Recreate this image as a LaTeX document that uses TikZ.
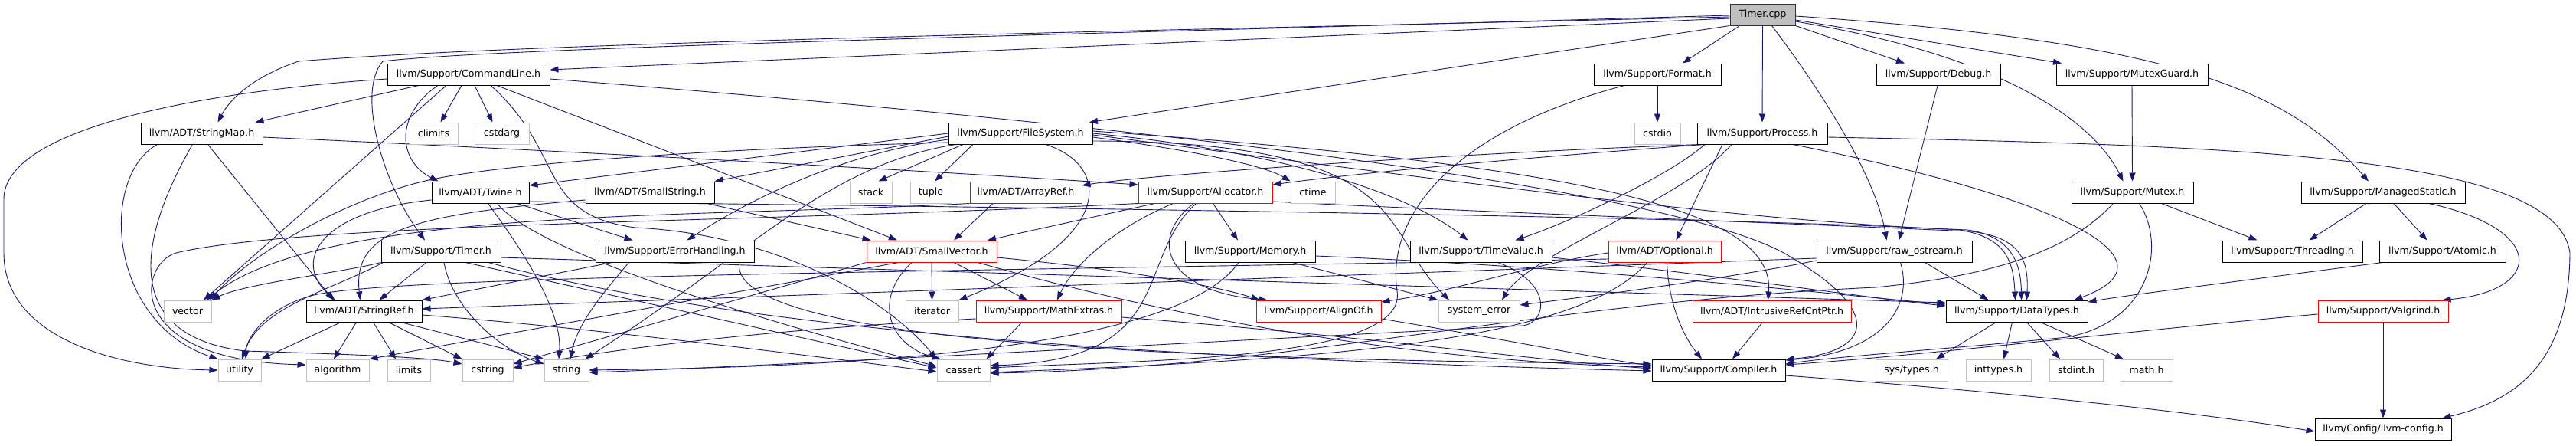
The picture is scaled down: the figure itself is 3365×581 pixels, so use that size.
\documentclass[tikz,border=0pt]{standalone}
\usepackage{fontspec}
\newfontfamily\nf{DejaVu Sans}
\usetikzlibrary{arrows.meta}
\pgfdeclarelayer{bg}
\pgfsetlayers{bg,main}
\definecolor{edgec}{HTML}{191970}
\definecolor{greyb}{HTML}{BFBFBF}
\tikzset{
  nb/.style={draw=black, line width=1.0pt, fill=white, minimum height=28pt, inner sep=0pt, font=\nf\fontsize{12.6pt}{15pt}\selectfont},
  nr/.style={nb, draw=red},
  ng/.style={nb, draw=greyb},
  e/.style={draw=edgec, line width=0.9pt, -{Triangle[length=11pt,width=8pt]}}
}
\begin{document}
\begin{tikzpicture}[x=1pt,y=-1pt]
\useasboundingbox (0,0) rectangle (3365,581);
% nodes
\node[nb,fill=greyb,draw=black!80,minimum width=85pt] (timercpp) at (2302.5,19) {Timer.cpp};
\node[nb,minimum width=212pt] (cmdline) at (612,97) {llvm/Support/CommandLine.h};
\node[nb,minimum width=166pt] (format) at (2165,97) {llvm/Support/Format.h};
\node[nb,minimum width=162pt] (debug) at (2532,97) {llvm/Support/Debug.h};
\node[nb,minimum width=198pt] (mutexguard) at (2785,97) {llvm/Support/MutexGuard.h};
\node[nb,minimum width=159pt] (stringmap) at (263.5,174) {llvm/ADT/StringMap.h};
\node[ng,minimum width=63pt] (climits) at (566.5,174) {climits};
\node[ng,minimum width=71pt] (cstdarg) at (655.5,174) {cstdarg};
\node[nb,minimum width=188pt] (filesystem) at (1333,174) {llvm/Support/FileSystem.h};
\node[ng,minimum width=60pt] (cstdio) at (2165,174) {cstdio};
\node[nb,minimum width=170pt] (process) at (2302,174) {llvm/Support/Process.h};
\node[nb,minimum width=127pt] (twine) at (627.5,251) {llvm/ADT/Twine.h};
\node[nb,minimum width=168pt] (smallstring) at (849,251) {llvm/ADT/SmallString.h};
\node[ng,minimum width=55pt] (stack) at (1137.5,251) {stack};
\node[ng,minimum width=54pt] (tuple) at (1216,251) {tuple};
\node[nr,minimum width=146pt] (arrayref) at (1340,251) {llvm/ADT/ArrayRef.h};
\node[nr,minimum width=175pt] (allocator) at (1574.5,251) {llvm/Support/Allocator.h};
\node[ng,minimum width=58pt] (ctime) at (1715,251) {ctime};
\node[nb,minimum width=159pt] (mutex) at (2785.5,251) {llvm/Support/Mutex.h};
\node[nb,minimum width=214pt] (managedstatic) at (3113,251) {llvm/Support/ManagedStatic.h};
\node[nb,minimum width=156pt] (timerh) at (576,328) {llvm/Support/Timer.h};
\node[nb,minimum width=207pt] (errorhandling) at (881.5,328) {llvm/Support/ErrorHandling.h};
\node[nr,minimum width=170pt] (smallvector) at (1217,328) {llvm/ADT/SmallVector.h};
\node[nb,minimum width=170pt] (memory) at (1633,328) {llvm/Support/Memory.h};
\node[nb,minimum width=185pt] (timevalue) at (1934.5,328) {llvm/Support/TimeValue.h};
\node[nr,minimum width=147pt] (optional) at (2174.5,328) {llvm/ADT/Optional.h};
\node[nb,minimum width=203pt] (rawostream) at (2474.5,328) {llvm/Support/raw\_ostream.h};
\node[nb,minimum width=183pt] (threading) at (2994.5,328) {llvm/Support/Threading.h};
\node[nb,minimum width=165pt] (atomic) at (3190.5,328) {llvm/Support/Atomic.h};
\node[ng,minimum width=62pt] (vector) at (245,406) {vector};
\node[nb,minimum width=151pt] (stringref) at (475.5,406) {llvm/ADT/StringRef.h};
\node[ng,minimum width=69pt] (iterator) at (1217.5,406) {iterator};
\node[nr,minimum width=190pt] (mathextras) at (1370,406) {llvm/Support/MathExtras.h};
\node[nr,minimum width=163pt] (alignof) at (1722.5,406) {llvm/Support/AlignOf.h};
\node[ng,minimum width=106pt] (systemerror) at (1932,406) {system\_error};
\node[nr,minimum width=207pt] (intrusive) at (2314.5,406) {llvm/ADT/IntrusiveRefCntPtr.h};
\node[nb,minimum width=185pt] (datatypes) at (2634.5,406) {llvm/Support/DataTypes.h};
\node[nr,minimum width=170pt] (valgrind) at (3113,406) {llvm/Support/Valgrind.h};
\node[ng,minimum width=56pt] (utility) at (313,483) {utility};
\node[ng,minimum width=82pt] (algorithm) at (441,483) {algorithm};
\node[ng,minimum width=56pt] (limits) at (534,483) {limits};
\node[ng,minimum width=66pt] (cstring) at (637,483) {cstring};
\node[ng,minimum width=58pt] (string) at (740,483) {string};
\node[ng,minimum width=69pt] (cassert) at (1258.5,483) {cassert};
\node[nb,minimum width=174pt] (compiler) at (2245,483) {llvm/Support/Compiler.h};
\node[ng,minimum width=94pt] (systypes) at (2497,483) {sys/types.h};
\node[ng,minimum width=85pt] (inttypes) at (2610.5,483) {inttypes.h};
\node[ng,minimum width=70pt] (stdint) at (2712,483) {stdint.h};
\node[ng,minimum width=68pt] (mathh) at (2804,483) {math.h};
\node[nb,minimum width=178pt] (llvmconfig) at (3113,560) {llvm/Config/llvm-config.h};

\begin{pgfonlayer}{bg}
\fill[white] (0,0) rectangle (3365,581);
% Timer.cpp
\draw[e] ([yshift=-3pt]timercpp.west) .. controls (1500,40) and (700,55) .. (390,80) .. controls (330,100) and (300,130) .. ([xshift=21pt]stringmap.north);
\draw[e] ([yshift=-1pt]timercpp.west) .. controls (1400,45) and (650,62) .. (500,80) .. controls (465,120) and (500,240) .. ([xshift=-21pt]timerh.north);
\draw[e] ([yshift=-5pt]timercpp.west) -- ([yshift=6pt]cmdline.east);
\draw[e] (timercpp.south west) -- ([xshift=90pt]filesystem.north);
\draw[e] ([xshift=-30pt]timercpp.south) -- ([xshift=33pt]format.north);
\draw[e] (timercpp.south) -- (process.north);
\draw[e] ([xshift=12pt]timercpp.south) .. controls (2380,120) and (2450,230) .. ([xshift=-10pt]rawostream.north);
\draw[e] (timercpp.south east) -- ([xshift=-44pt]debug.north);
\draw[e] ([yshift=-7pt]timercpp.east) -- ([xshift=-92pt]mutexguard.north);
\draw[e] ([yshift=-9pt]timercpp.east) .. controls (2600,70) and (2730,150) .. ([xshift=-12pt]mutex.north);
\draw[e] ([yshift=-2pt]timercpp.east) .. controls (2850,55) and (2990,120) .. ([xshift=-19pt]managedstatic.north);
% CommandLine
\draw[e] ([xshift=-65pt]cmdline.south) -- ([xshift=70pt]stringmap.north);
\draw[e] ([yshift=-6pt]cmdline.west) .. controls (250,120) and (5,170) .. (5,260) -- (5,330) .. controls (5,440) and (150,481) .. (utility.west);
\draw[e] ([xshift=-29pt]cmdline.south) -- ([xshift=21pt]vector.north);
\draw[e] ([xshift=-40pt]cmdline.south) .. controls (515,150) and (520,210) .. ([xshift=-55pt]twine.north);
\draw[e] ([xshift=-9pt]cmdline.south) -- ([xshift=9pt]climits.north);
\draw[e] ([xshift=8pt]cmdline.south) -- ([xshift=-12pt]cstdarg.north);
\draw[e] ([xshift=29pt]cmdline.south) .. controls (740,200) and (700,280) .. (830,297) .. controls (1000,305) and (1150,380) .. (cassert.north west);
\draw[e] ([xshift=37pt]cmdline.south) -- ([xshift=-45pt]smallvector.north);
\draw[e] ([yshift=-6pt]cmdline.east) .. controls (1700,180) and (2200,260) .. (2330,330) .. controls (2470,410) and (2440,460) .. ([yshift=14pt]compiler.east);
% StringMap
\draw[e] ([xshift=-58pt]stringmap.south) .. controls (130,230) and (140,420) .. (utility.north west);
\draw[e] ([xshift=-12pt]stringmap.south) .. controls (170,330) and (170,440) .. (320,458) .. controls (450,462) and (560,466) .. ([yshift=8pt]cstring.west);
\draw[e] ([xshift=8pt]stringmap.south) -- ([xshift=-40pt]stringref.north);
\draw[e] ([yshift=-5pt]stringmap.east) .. controls (700,195) and (1200,222) .. ([yshift=10pt]allocator.west);
% Twine
\draw[e] ([yshift=-10pt]twine.west) .. controls (420,275) and (380,340) .. ([xshift=-38pt]stringref.north);
\draw[e] ([xshift=48pt]twine.south) -- ([xshift=-55pt]errorhandling.north);
\draw[e] ([xshift=10pt]twine.south) .. controls (670,310) and (735,400) .. ([xshift=-10pt]string.north);
\draw[e] ([xshift=22pt]twine.south) .. controls (700,330) and (1000,420) .. ([yshift=5pt]cassert.west);
\draw[e] ([yshift=-12pt]twine.east) .. controls (1500,272) and (2300,285) .. (2560,300) .. controls (2620,310) and (2630,340) .. ([xshift=-2pt]datatypes.north);
% SmallString
\draw[e] ([xshift=-10pt]smallstring.south east) -- ([xshift=6pt]smallvector.north west);
\draw[e] ([yshift=-10pt]smallstring.west) .. controls (540,280) and (460,300) .. ([xshift=-5pt]stringref.north);
% FileSystem
\draw[e] (filesystem.west) -- ([yshift=9pt]twine.east);
\draw[e] ([yshift=-4pt]filesystem.west) -- (smallstring.north east);
\draw[e] ([yshift=-8pt]filesystem.west) .. controls (1100,200) and (980,260) .. ([xshift=16pt]errorhandling.north);
\draw[e] ([yshift=-12pt]filesystem.west) .. controls (900,195) and (650,215) .. (560,235) .. controls (450,260) and (330,330) .. ([xshift=29pt]vector.north);
\draw[e] ([xshift=10pt]filesystem.south west) .. controls (1080,215) and (980,330) .. ([xshift=-5pt]string.north east);
\draw[e] ([xshift=-75pt]filesystem.south) -- ([xshift=10pt]stack.north);
\draw[e] ([xshift=-62pt]filesystem.south) -- ([xshift=5pt]tuple.north);
\draw[e] ([xshift=33pt]filesystem.south) .. controls (1450,215) and (1460,310) .. (iterator.north east);
\draw[e] ([yshift=-5pt]filesystem.east) .. controls (1550,195) and (1650,215) .. (ctime.north west);
\draw[e] (filesystem.east) .. controls (1700,200) and (1850,260) .. ([xshift=-17pt]timevalue.north);
\draw[e] ([yshift=-10pt]filesystem.east) .. controls (1850,185) and (1800,300) .. ([xshift=-39pt]systemerror.north);
\draw[e] ([yshift=3pt]filesystem.east) .. controls (2050,215) and (2320,270) .. ([xshift=-5pt]intrusive.north);
\draw[e] ([yshift=-2pt]filesystem.east) .. controls (2000,250) and (2300,290) .. (2570,300) .. controls (2625,308) and (2640,340) .. ([xshift=6pt]datatypes.north);
% ErrorHandling
\draw[e] ([xshift=22pt]errorhandling.south west) -- (stringref.north east);
\draw[e] ([xshift=-60pt]errorhandling.south) .. controls (790,380) and (755,420) .. ([xshift=5pt]string.north);
\draw[e] ([xshift=-20pt]errorhandling.south east) .. controls (950,460) and (1700,470) .. ([yshift=8pt]compiler.west);
% SmallVector
\draw[e] ([xshift=-43pt]smallvector.south) -- (algorithm.north east);
\draw[e] (smallvector.south west) -- ([yshift=8pt]cstring.east);
\draw[e] ([xshift=-26pt]smallvector.south) .. controls (1140,390) and (1160,450) .. ([xshift=-30pt]cassert.north);
\draw[e] (smallvector.south) -- (iterator.north);
\draw[e] ([xshift=29pt]smallvector.south) -- ([xshift=-28pt]mathextras.north);
\draw[e] ([xshift=60pt]smallvector.south) .. controls (1480,400) and (1800,470) .. ([yshift=4pt]compiler.west);
\draw[e] ([yshift=-8pt]smallvector.east) .. controls (1450,350) and (1580,370) .. ([xshift=5pt]alignof.north west);
% ArrayRef
\draw[e] ([xshift=-43pt]arrayref.south) -- ([xshift=29pt]smallvector.north);
\draw[e] (arrayref.south west) .. controls (900,285) and (420,270) .. ([xshift=25pt]vector.north);
% Allocator
\draw[e] ([xshift=-66pt]allocator.south) -- ([xshift=73pt]smallvector.north);
\draw[e] ([xshift=-15pt]allocator.south) .. controls (1500,310) and (1520,380) .. ([xshift=15pt]alignof.north west);
\draw[e] ([xshift=-42pt]allocator.south) .. controls (1450,300) and (1400,350) .. ([xshift=11pt]mathextras.north);
\draw[e] ([xshift=-12pt]allocator.south) .. controls (1480,340) and (1540,470) .. ([yshift=6pt]cassert.east);
\draw[e] ([xshift=10pt]allocator.south) -- ([xshift=-16pt]memory.north);
\draw[e] ([yshift=-12pt]allocator.east) .. controls (1900,275) and (2300,290) .. (2575,302) .. controls (2640,310) and (2650,340) .. ([xshift=13pt]datatypes.north);
\draw[e] (allocator.south west) .. controls (1000,290) and (400,290) .. (230,330) .. controls (180,345) and (160,470) .. ([yshift=7pt]algorithm.west);
% Memory
\draw[e] ([yshift=-6pt]memory.east) .. controls (2100,350) and (2400,385) .. ([yshift=9pt]datatypes.west);
\draw[e] ([xshift=-15pt]memory.south) .. controls (1530,470) and (1000,480) .. (string.east);
\draw[e] ([xshift=55pt]memory.south) -- (systemerror.north west);
% MathExtras
\draw[e] ([yshift=-8pt]mathextras.east) .. controls (1800,440) and (2000,470) .. ([yshift=2pt]compiler.west);
\draw[e] ([xshift=-35pt]mathextras.south) -- ([xshift=30pt]cassert.north);
\draw[e] ([yshift=-10pt]mathextras.west) .. controls (1000,430) and (800,455) .. ([yshift=3pt]cstring.east);
% AlignOf
\draw[e] ([yshift=-10pt]alignof.east) .. controls (1950,440) and (2100,470) .. ([yshift=6pt]compiler.west);
% TimeValue
\draw[e] ([yshift=-8pt]timevalue.east) .. controls (2250,360) and (2450,390) .. ([yshift=7pt]datatypes.west);
\draw[e] ([xshift=22pt]timevalue.south) .. controls (2030,370) and (2020,420) .. (1990,425) .. controls (1500,450) and (1000,478) .. ([yshift=-3pt]string.east);
% Optional
\draw[e] ([yshift=-2pt]optional.west) .. controls (2000,345) and (1900,380) .. ([yshift=12pt]alignof.east);
\draw[e] ([xshift=3pt]optional.south) .. controls (2180,400) and (2200,440) .. ([xshift=-22pt]compiler.north);
\draw[e] ([xshift=-23pt]optional.south) .. controls (2060,450) and (1700,470) .. ([yshift=-3pt]cassert.east);
\draw[e] ([yshift=-10pt]optional.west) .. controls (1200,355) and (520,360) .. (410,385) .. controls (350,400) and (322,440) .. ([xshift=8pt]utility.north);
% raw_ostream
\draw[e] ([yshift=-9pt]rawostream.west) -- ([yshift=3pt]stringref.east);
\draw[e] ([xshift=8pt]rawostream.south) .. controls (2500,400) and (2460,460) .. ([yshift=13pt]compiler.east);
\draw[e] ([xshift=40pt]rawostream.south) -- ([xshift=-37pt]datatypes.north);
\draw[e] ([yshift=-12pt]rawostream.west) .. controls (2250,365) and (2050,390) .. ([yshift=8pt]systemerror.east);
% Process
\draw[e] ([xshift=5pt]process.south west) .. controls (1900,200) and (1500,228) .. ([yshift=9pt]arrayref.east);
\draw[e] ([xshift=10pt]process.south west) .. controls (2000,205) and (1780,225) .. ([yshift=10pt]allocator.east);
\draw[e] ([xshift=-52pt]process.south) -- ([xshift=15pt]optional.north);
\draw[e] ([xshift=-75pt]process.south) .. controls (2180,230) and (2050,290) .. ([xshift=45pt]timevalue.north);
\draw[e] ([xshift=-40pt]process.south) .. controls (2200,260) and (2000,330) .. ([xshift=30pt]systemerror.north);
\draw[e] ([xshift=40pt]process.south) .. controls (2700,260) and (2850,340) .. ([xshift=75pt]datatypes.north);
\draw[e] ([yshift=-5pt]process.east) .. controls (2950,190) and (3340,205) .. (3357,330) .. controls (3356,460) and (3300,520) .. ([xshift=-12pt]llvmconfig.north east);
% Format, Debug, MutexGuard
\draw[e] (format.south) -- (cstdio.north);
\draw[e] ([xshift=-43pt]format.south) .. controls (1900,170) and (1810,280) .. (1825,380) .. controls (1840,470) and (1500,470) .. ([yshift=3pt]cassert.east);
\draw[e] ([xshift=-1pt]debug.south) -- ([xshift=6pt]rawostream.north);
\draw[e] (mutexguard.south) -- (mutex.north);
% Mutex
\draw[e] ([xshift=38pt]mutex.south) -- ([xshift=-46pt]threading.north);
\draw[e] ([xshift=9pt]mutex.south) .. controls (2830,320) and (2810,420) .. (2700,440) .. controls (2550,455) and (2400,465) .. ([yshift=8pt]compiler.east);
\draw[e] ([xshift=-25pt]mutex.south) .. controls (2700,330) and (2600,360) .. (2450,375) .. controls (2000,395) and (1700,480) .. ([yshift=-4pt]cassert.east);
% ManagedStatic
\draw[e] ([xshift=-22pt]managedstatic.south) -- ([xshift=22pt]threading.north);
\draw[e] ([xshift=14pt]managedstatic.south) -- ([xshift=-20pt]atomic.north);
\draw[e] ([xshift=60pt]managedstatic.south) .. controls (3330,300) and (3320,380) .. ([xshift=-8pt]valgrind.north east);
% Atomic, Valgrind, IntrusiveRefCntPtr
\draw[e] ([xshift=5pt]atomic.south west) .. controls (2900,370) and (2780,385) .. ([yshift=12pt]datatypes.east);
\draw[e] (valgrind.south) -- (llvmconfig.north);
\draw[e] ([yshift=-4pt]valgrind.west) .. controls (2800,430) and (2500,465) .. ([yshift=7pt]compiler.east);
\draw[e] ([xshift=-12pt]intrusive.south) -- ([xshift=18pt]compiler.north);
% DataTypes
\draw[e] ([xshift=-27pt]datatypes.south) -- ([xshift=32pt]systypes.north);
\draw[e] ([xshift=-6pt]datatypes.south) -- ([xshift=7pt]inttypes.north);
\draw[e] ([xshift=13pt]datatypes.south) -- ([xshift=-21pt]stdint.north);
\draw[e] ([xshift=31pt]datatypes.south) -- ([xshift=-30pt]mathh.north);
% Compiler
\draw[e] ([yshift=-7pt]compiler.east) .. controls (2600,510) and (2850,535) .. ([yshift=-3pt]llvmconfig.west);
% StringRef
\draw[e] ([xshift=-30pt]stringref.south) -- (utility.north east);
\draw[e] ([xshift=-10pt]stringref.south) -- ([xshift=-5pt]algorithm.north);
\draw[e] ([xshift=12pt]stringref.south) -- ([xshift=-17pt]limits.north);
\draw[e] ([xshift=32pt]stringref.south) -- (cstring.north west);
\draw[e] ([xshift=48pt]stringref.south) -- (string.north west);
\draw[e] ([yshift=-5pt]stringref.east) .. controls (800,430) and (1100,470) .. ([yshift=-2pt]cassert.west);
% Timer.h
\draw[e] ([xshift=-19pt]timerh.south) -- ([xshift=20pt]stringref.north);
\draw[e] (timerh.south west) .. controls (450,355) and (320,370) .. (vector.north east);
\draw[e] ([xshift=3pt]timerh.south west) .. controls (430,380) and (340,400) .. ([xshift=3pt]utility.north);
\draw[e] ([xshift=4pt]timerh.south) .. controls (590,400) and (650,455) .. ([yshift=8pt]string.west);
\draw[e] ([xshift=32pt]timerh.south) -- ([yshift=3pt]cassert.west);
\draw[e] ([xshift=62pt]timerh.south) .. controls (1000,440) and (1600,470) .. ([yshift=-1pt]compiler.west);
\draw[e] ([yshift=-8pt]timerh.east) -- ([yshift=11pt]datatypes.west);
\end{pgfonlayer}
\end{tikzpicture}
\end{document}
